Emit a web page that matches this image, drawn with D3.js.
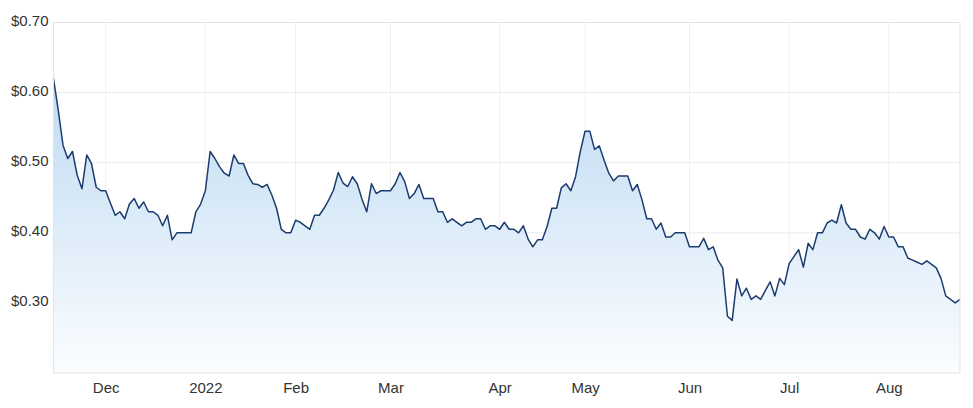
<!DOCTYPE html>
<html>
<head>
<meta charset="utf-8">
<script src="https://cdn.jsdelivr.net/npm/d3@7"></script>
<style>
  body { margin: 0; background: #fff; }
  text { font-family: "Liberation Sans", Arial, sans-serif; }
</style>
</head>
<body>
<script>
"use strict";

var width = 973,
    height = 408;

// first and last trading day shown, ASX holidays in between
const firstDay = "2021-11-16";
const lastDay = "2022-08-22";
const holidays = ["2021-12-27", "2021-12-28", "2022-01-03", "2022-01-26",
                  "2022-04-15", "2022-04-18", "2022-04-25", "2022-06-13"];

// closing prices, one per trading day, grouped by month
const novPrices = [0.620, 0.575, 0.525, 0.506, 0.516, 0.482, 0.463, 0.511, 0.499, 0.465, 0.460];
const decPrices = [0.460, 0.442, 0.425, 0.430, 0.420, 0.441, 0.449, 0.435, 0.444, 0.430,
                   0.430, 0.425, 0.410, 0.425, 0.390, 0.400, 0.400, 0.400, 0.400, 0.430, 0.441];
const janPrices = [0.460, 0.516, 0.506, 0.494, 0.485, 0.481, 0.511, 0.499, 0.499, 0.482,
                   0.470, 0.469, 0.465, 0.469, 0.454, 0.435, 0.405, 0.400, 0.400];
const febPrices = [0.418, 0.415, 0.410, 0.405, 0.425, 0.425, 0.435, 0.447, 0.461, 0.486,
                   0.471, 0.466, 0.480, 0.470, 0.448, 0.430, 0.470, 0.456, 0.460, 0.460];
const marPrices = [0.460, 0.470, 0.486, 0.473, 0.449, 0.456, 0.469, 0.449, 0.449, 0.449,
                   0.430, 0.430, 0.415, 0.420, 0.415, 0.410, 0.415, 0.415, 0.420, 0.420,
                   0.405, 0.410, 0.410];
const aprPrices = [0.405, 0.415, 0.405, 0.405, 0.400, 0.410, 0.391, 0.380, 0.390, 0.390,
                   0.409, 0.435, 0.435, 0.464, 0.470, 0.460, 0.480, 0.516];
const mayPrices = [0.545, 0.545, 0.519, 0.524, 0.504, 0.485, 0.474, 0.481, 0.481, 0.481,
                   0.460, 0.469, 0.447, 0.420, 0.420, 0.405, 0.414, 0.394, 0.394, 0.400,
                   0.400, 0.400];
const junPrices = [0.380, 0.380, 0.380, 0.392, 0.376, 0.380, 0.361, 0.350, 0.281, 0.275,
                   0.334, 0.310, 0.321, 0.305, 0.310, 0.305, 0.318, 0.330, 0.310, 0.335, 0.326];
const julPrices = [0.356, 0.366, 0.376, 0.351, 0.385, 0.376, 0.400, 0.400, 0.414, 0.418,
                   0.414, 0.440, 0.414, 0.405, 0.405, 0.394, 0.391, 0.405, 0.400, 0.391, 0.409];
const augPrices = [0.394, 0.394, 0.380, 0.380, 0.364, 0.361, 0.358, 0.355, 0.360, 0.355,
                   0.350, 0.335, 0.310, 0.305, 0.300, 0.305];

const yTicks = [0.30, 0.40, 0.50, 0.60, 0.70];

const prices = [].concat(novPrices, decPrices, janPrices, febPrices, marPrices,
                         aprPrices, mayPrices, junPrices, julPrices, augPrices);

const margin = { top: 22.5, right: 13, bottom: 35, left: 53.5 };
const innerW = width - margin.left - margin.right,
      innerH = height - margin.top - margin.bottom;

const fmtDay = d3.utcFormat("%Y-%m-%d");
const tradingDays = d3.utcDay.range(new Date(firstDay), d3.utcDay.offset(new Date(lastDay), 1))
    .filter(d => d.getUTCDay() !== 0 && d.getUTCDay() !== 6 && holidays.indexOf(fmtDay(d)) < 0);

const data = prices.map((p, i) => ({ date: tradingDays[i], key: fmtDay(tradingDays[i]), close: p }));

// first trading day of each month gets a tick
const monthStarts = data.filter((d, i) => i > 0 &&
    d.date.getUTCMonth() !== data[i - 1].date.getUTCMonth());

const x = d3.scalePoint()
    .domain(data.map(d => d.key))
    .range([0, innerW]);

const y = d3.scaleLinear()
    .domain([0.20, 0.70])
    .range([innerH, 0]);

const svg = d3.select("body")
    .append("svg")
    .attr("width", width)
    .attr("height", height);

const defs = svg.append("defs");
const grad = defs.append("linearGradient")
    .attr("id", "areaFill")
    .attr("gradientUnits", "userSpaceOnUse")
    .attr("x1", 0).attr("y1", 0)
    .attr("x2", 0).attr("y2", innerH);
grad.append("stop").attr("offset", "0%").attr("stop-color", "#b3d4f0");
grad.append("stop").attr("offset", "100%").attr("stop-color", "#fbfdff");

const g = svg.append("g")
    .attr("transform", "translate(" + margin.left + "," + margin.top + ")");

// grid
g.append("g").selectAll("line")
    .data(yTicks)
    .enter()
    .append("line")
    .attr("x1", 0).attr("x2", innerW)
    .attr("y1", d => y(d))
    .attr("y2", d => y(d))
    .attr("stroke", "#ececec");

g.append("g").selectAll("line")
    .data(monthStarts)
    .enter()
    .append("line")
    .attr("x1", d => x(d.key)).attr("x2", d => x(d.key))
    .attr("y1", 0).attr("y2", innerH)
    .attr("stroke", "#f0f0f0");

// area + line
g.append("path")
    .datum(data)
    .attr("fill", "url(#areaFill)")
    .attr("d", d3.area()
        .x(d => x(d.key))
        .y0(innerH)
        .y1(d => y(d.close)));

g.append("path")
    .datum(data)
    .attr("fill", "none")
    .attr("stroke", "#1b3c6e")
    .attr("stroke-width", 1.5)
    .attr("stroke-linejoin", "round")
    .attr("d", d3.line()
        .x(d => x(d.key))
        .y(d => y(d.close)));

// frame
g.append("rect")
    .attr("x", 0).attr("y", 0)
    .attr("width", innerW).attr("height", innerH)
    .attr("fill", "none")
    .attr("stroke", "#e3e3e3");

// axes
const yAxis = g.append("g")
    .call(d3.axisLeft(y)
        .tickValues(yTicks)
        .tickSize(0)
        .tickPadding(5)
        .tickFormat(d => "$" + d.toFixed(2)));
yAxis.select(".domain").remove();
yAxis.selectAll("text")
    .attr("fill", "#333")
    .attr("dy", "0.18em")
    .style("font-size", "15px");

const xAxis = g.append("g")
    .attr("transform", "translate(0," + innerH + ")")
    .call(d3.axisBottom(x)
        .tickValues(monthStarts.map(d => d.key))
        .tickSize(0)
        .tickPadding(9)
        .tickFormat(k => {
            const d = new Date(k);
            return d.getUTCMonth() === 0 ? d3.utcFormat("%Y")(d) : d3.utcFormat("%b")(d);
        }));
xAxis.select(".domain").remove();
xAxis.selectAll("text")
    .attr("fill", "#333")
    .style("font-size", "15px");
</script>
</body>
</html>
